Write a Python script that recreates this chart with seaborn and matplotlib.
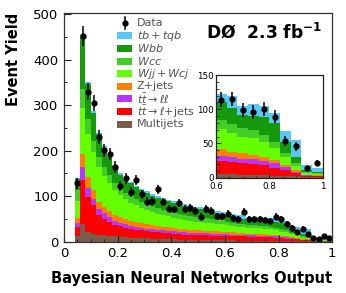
import numpy as np
import pandas as pd
import matplotlib
matplotlib.use("Agg")
import matplotlib.pyplot as plt
from matplotlib.patches import Rectangle
from matplotlib.ticker import MultipleLocator
import seaborn as sns

# BNN output binning: 48 bins of 0.02 from 0.04 to 1.0
bin_lo, bin_hi, n_bins = 0.04, 1.0, 48

data_yield = [128, 452, 330, 304, 230, 201, 193, 164, 122, 139, 109, 136, 104, 88, 89, 115,
              87, 73, 71, 85, 72, 74, 68, 55, 72, 68, 56, 56, 62, 52, 49, 66,
              49, 50, 49, 47, 45, 55, 49, 40, 31, 22, 29, 17, 8, 6, 13, 8]

tb_tqb = [2, 3, 5, 5, 4, 4, 4, 4, 3.5, 3.5, 3.5, 3.5, 3.5, 3.5, 3.5, 3.5,
          3.5, 3.5, 3.5, 3.5, 3.5, 3.5, 3.5, 3.5, 4, 4, 4.5, 5, 5.5, 5.8, 8.5, 9.5,
          7, 7.5, 8.5, 8.5, 8, 8.4, 7, 7.6, 7.5, 8, 12, 12.3, 3.8, 3.7, 3, 2.8]
wbb = [25, 118, 77, 61, 50, 41, 40, 36, 30, 29, 28, 26.5, 25.5, 24.5, 23.5, 23,
       22.5, 22, 22, 21.5, 21, 20.5, 20, 19.5, 18, 17, 15.5, 14, 13, 12.5, 12, 12,
       9, 9, 10.2, 10.2, 12.8, 12.8, 13.4, 13.4, 8.5, 8.5, 4.4, 4.3, 1.6, 1.6, 1.3, 1.2]
wcc = [23, 40, 33, 25, 22, 20, 18, 16.5, 15, 14.5, 14, 13.5, 13, 12.5, 12, 11.8,
       11.5, 11.2, 11, 10.5, 10.2, 10, 9.8, 9.5, 9.2, 9, 8.8, 8.5, 7, 6.8, 6.5, 6.3,
       6.5, 6.4, 6.1, 6, 5, 4.8, 4.8, 4.7, 2.5, 2.4, 2.5, 2.5, 0.8, 0.7, 0.5, 0.4]
wjj = [37, 102, 95, 84, 76, 68, 61, 54, 47, 43, 40, 37, 34, 31.5, 29.5, 27.5,
       26, 24.5, 23, 21.5, 20.5, 19.5, 18.5, 18, 17.5, 17, 16.5, 16, 15, 14.6, 13.6, 13.4,
       12.3, 12.1, 12.3, 12.2, 11.2, 10.7, 8.8, 8.4, 6.3, 5.9, 3.1, 2.9, 1, 0.9, 0.7, 0.7]
zjets = [11, 29, 25, 18, 15, 14, 13, 13, 13.4, 12, 11, 10.5, 10, 9.5, 9, 8.5,
         8, 7.5, 7.2, 7, 6.8, 6.6, 6.4, 6.2, 6, 5.8, 5.6, 5.4, 4.8, 4.6, 4.2, 4,
         3.9, 3.9, 3.2, 3, 3, 2.9, 2.5, 2.3, 1.8, 1.7, 1.1, 1.1, 0.5, 0.5, 0.5, 0.5]
tt_ll = [10.5, 29, 19, 15, 15, 12, 10, 9, 7.6, 7, 6.5, 6, 5.8, 5.5, 5.3, 5,
         4.9, 4.8, 4.7, 4.6, 4.5, 4.4, 4.3, 4.2, 4.1, 4, 4, 3.9, 3.9, 3.8, 3.3, 3.1,
         3.4, 3.4, 3.4, 3.4, 3.4, 3.4, 3.3, 3.1, 2.2, 1.8, 1.3, 1.2, 0.7, 0.7, 0.5, 0.5]
tt_ljets = [18.5, 96, 76, 62, 43, 37, 31, 25, 23, 21, 19.5, 18, 17, 16, 15, 14.5,
            14, 13.5, 13, 12, 11.8, 11.5, 11.2, 11, 10.8, 10.5, 10.2, 10, 9.6, 9.3, 9.2, 9.2,
            8.6, 8.4, 8.2, 7.8, 7.5, 7, 6.2, 5.4, 4.6, 3.9, 2.5, 1.8, 0.6, 0.4, 0.5, 0.5]
multijets = [13, 39, 22, 18, 15, 14, 13, 12, 11, 10, 9, 8.5, 8, 7.5, 7, 6.5,
             6, 5.5, 5, 4.5, 4, 4, 3.5, 3.5, 3.5, 3, 3, 3, 2.7, 2.7, 2.5, 2.5,
             2, 2, 2, 2, 1.8, 1.7, 1.5, 1.5, 1.3, 1.2, 1, 1, 0.5, 0.5, 0.5, 0.5]

samples = ["tb+tqb", "Wbb", "Wcc", "Wjj+Wcj", "Z+jets", "tt->ll", "tt->l+jets", "Multijets"]
sample_vals = [tb_tqb, wbb, wcc, wjj, zjets, tt_ll, tt_ljets, multijets]
labels = [r"$tb+tqb$", r"$Wbb$", r"$Wcc$", r"$Wjj+Wcj$", "Z+jets",
          r"$t\bar{t}\rightarrow\ell\ell$", r"$t\bar{t}\rightarrow\ell$+jets", "Multijets"]
colors = ["#58c8f8", "#17990c", "#45cc28", "#66ff00", "#ff7f00", "#bb33ff", "#ff0000", "#7a5c4c"]
palette = dict(zip(samples, colors))

edges = np.linspace(bin_lo, bin_hi, n_bins + 1)
centers = 0.5 * (edges[:-1] + edges[1:])

rows = []
for name, vals in zip(samples, sample_vals):
    for c, v in zip(centers, vals):
        rows.append((c, v, name))
mc = pd.DataFrame(rows, columns=["bnn", "events", "sample"])
data = pd.DataFrame({"bnn": centers, "events": data_yield})

fig = plt.figure(figsize=(3.46, 2.93), dpi=100)
ax = fig.add_axes([0.185, 0.175, 0.775, 0.781])

sns.histplot(data=mc, x="bnn", weights="events", hue="sample", hue_order=samples,
             palette=palette, multiple="stack", element="step", bins=edges.tolist(),
             alpha=1, linewidth=0, legend=False, ax=ax)
ax.errorbar(data["bnn"], data["events"], yerr=np.sqrt(data["events"]), fmt="o",
            color="black", ms=3.5, elinewidth=1.1, capsize=0)

ax.set_xlim(0, 1)
ax.set_ylim(0, 503)
ax.xaxis.set_minor_locator(MultipleLocator(0.05))
ax.yaxis.set_major_locator(MultipleLocator(100))
ax.yaxis.set_minor_locator(MultipleLocator(50))
ax.set_xticks([0, 0.2, 0.4, 0.6, 0.8, 1.0], ["0", "0.2", "0.4", "0.6", "0.8", "1"])
ax.tick_params(which="both", direction="in", labelsize=9.5, color="#222222")
ax.tick_params(which="major", length=5, width=0.8, pad=4)
ax.tick_params(which="minor", length=2.5, width=0.7)
for s in ax.spines.values():
    s.set_linewidth(0.9)
    s.set_color("#333333")
ax.set_xlabel("Bayesian Neural Networks Output", fontsize=10.5, fontweight="bold",
              loc="right", labelpad=8)
ax.set_ylabel("Event Yield", fontsize=10.5, fontweight="bold", loc="top", labelpad=9)

ax.text(0.963, 0.891, r"DØ  2.3 fb$^{\mathbf{-1}}$", transform=ax.transAxes, ha="right",
        va="baseline", fontsize=12.3, fontweight="bold")

# legend drawn by hand to get the tight ROOT-style row spacing
leg_x, leg_y, leg_dy = 0.199, 0.955, 0.0552
ax.plot([leg_x + 0.027] * 2, [leg_y - 0.026, leg_y + 0.026], color="black", lw=1.1,
        transform=ax.transAxes)
ax.plot([leg_x + 0.027], [leg_y], "o", color="black", ms=3.5, transform=ax.transAxes)
ax.text(0.271, leg_y, "Data", transform=ax.transAxes, va="center", fontsize=8,
        color="#555555")
for i, (lab, col) in enumerate(zip(labels, colors), start=1):
    yy = leg_y - i * leg_dy
    ax.add_patch(Rectangle((leg_x, yy - 0.0153), 0.0537, 0.0306, facecolor=col,
                           edgecolor="none", transform=ax.transAxes))
    ax.text(0.271, yy, lab, transform=ax.transAxes, va="center", fontsize=8,
            color="#555555")

# inset: high BNN output region, rebinned to 0.04
ins = fig.add_axes([0.624, 0.3935, 0.309, 0.3505])
ins_edges = np.linspace(0.6, 1.0, 11)
sns.histplot(data=mc, x="bnn", weights="events", hue="sample", hue_order=samples,
             palette=palette, multiple="stack", element="step", bins=ins_edges.tolist(),
             alpha=1, linewidth=0, legend=False, ax=ins)
ins_data, _ = np.histogram(data["bnn"], bins=ins_edges, weights=data["events"])
ins_cent = 0.5 * (ins_edges[:-1] + ins_edges[1:])
ins.errorbar(ins_cent, ins_data, yerr=np.sqrt(ins_data), fmt="o", color="black",
             ms=3.5, elinewidth=1.1, capsize=0)
ins.set_xlim(0.6, 1.0)
ins.set_ylim(0, 150)
ins.set_xticks([0.6, 0.8, 1.0], ["0.6", "0.8", "1"])
ins.xaxis.set_minor_locator(MultipleLocator(0.05))
ins.yaxis.set_major_locator(MultipleLocator(50))
ins.yaxis.set_minor_locator(MultipleLocator(10))
ins.tick_params(which="both", direction="in", labelsize=6.3, color="#222222")
ins.tick_params(axis="y", pad=1.5)
ins.tick_params(axis="x", pad=3)
ins.tick_params(which="major", length=3.5, width=0.7)
ins.tick_params(which="minor", length=1.8, width=0.6)
ins.set_xlabel("")
ins.set_ylabel("")
for s in ins.spines.values():
    s.set_linewidth(0.9)
    s.set_color("#222222")

fig.savefig("out.png", dpi=100)
